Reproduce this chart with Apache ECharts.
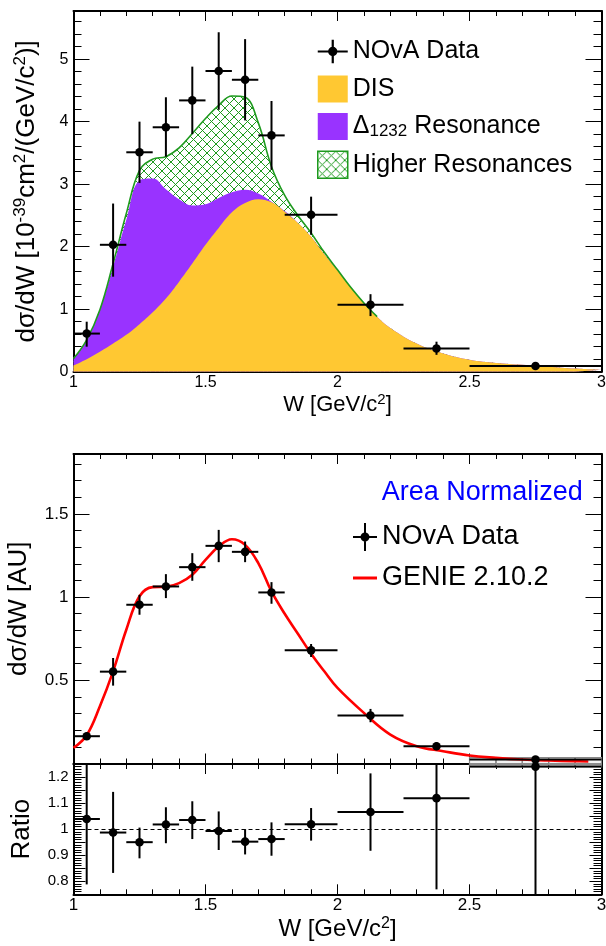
<!DOCTYPE html>
<html><head><meta charset="utf-8">
<script src="https://cdn.jsdelivr.net/npm/echarts@6/dist/echarts.min.js"></script>
<style>html,body{margin:0;padding:0;background:#fff}#c{width:606px;height:946px}</style>
</head><body><div id="c"></div>
<script>
// ---------------- DATA ----------------
// Model grid (W in GeV/c^2)
const W = [1.00,1.05,1.10,1.15,1.20,1.25,1.30,1.35,1.40,1.45,1.50,1.55,1.60,1.65,1.70,1.75,1.80,1.85,1.90,1.95,2.00,2.05,2.10,2.15,2.20,2.30,2.40,2.50,2.60,2.70,2.80,2.90,3.00];
// Model components, 10^-39 cm^2/(GeV/c^2) (drawn stacked)
const disXS    = [0.10,0.20,0.32,0.45,0.59,0.76,0.95,1.17,1.44,1.73,2.03,2.30,2.55,2.70,2.76,2.71,2.56,2.38,2.16,1.88,1.62,1.35,1.10,0.88,0.70,0.45,0.29,0.19,0.14,0.11,0.08,0.05,0.03];
const deltaXS  = [0.10,0.30,0.67,1.23,1.84,2.30,2.14,1.75,1.32,0.93,0.65,0.48,0.32,0.21,0.09,0.01,0.01,0.00,0.00,0.00,0.00,0.00,0.00,0.00,0.00,0.00,0.00,0.00,0.00,0.00,0.00,0.00,0.00];
const higherXS = [0.01,0.01,0.00,0.05,0.10,0.16,0.31,0.52,0.82,1.15,1.37,1.48,1.54,1.48,1.13,0.56,0.25,0.12,0.06,0.03,0.01,0.00,0.00,0.00,0.00,0.00,0.00,0.00,0.00,0.00,0.00,0.00,0.00];
const outlineMaxW = 2.15;   // green outline visible up to here

// Data bins
const binLo     = [1.0,1.1,1.2,1.3,1.4,1.5,1.6,1.7,1.8,2.0,2.25,2.5];
const binHi     = [1.1,1.2,1.3,1.4,1.5,1.6,1.7,1.8,2.0,2.25,2.5,3.0];
const binCenter = [1.05,1.15,1.25,1.35,1.45,1.55,1.65,1.75,1.9,2.125,2.375,2.75];
// Cross section data
const dataXS   = [0.61,2.03,3.51,3.91,4.34,4.81,4.67,3.78,2.51,1.07,0.37,0.09];
const dataXSLo = [0.40,1.52,3.02,3.44,3.80,4.19,4.02,3.23,2.19,0.89,0.27,0.06];
const dataXSHi = [0.80,2.69,4.00,4.39,4.88,5.43,5.32,4.33,2.80,1.24,0.48,0.12];
// Area normalized data
const dataAU   = [0.164,0.552,0.954,1.064,1.180,1.308,1.272,1.028,0.680,0.288,0.104,0.024];
const dataAULo = [0.142,0.468,0.894,0.994,1.098,1.210,1.210,0.960,0.640,0.248,0.080,0.010];
const dataAUHi = [0.186,0.634,1.014,1.138,1.264,1.404,1.334,1.090,0.718,0.328,0.128,0.038];
// GENIE 2.10.2 curve
const genieW  = [1.00,1.05,1.10,1.15,1.20,1.25,1.30,1.35,1.40,1.45,1.50,1.55,1.60,1.65,1.70,1.75,1.80,1.85,1.90,1.95,2.00,2.10,2.20,2.30,2.40,2.50,2.60,2.70,2.80,2.90,2.95];
const genieAU = [0.094,0.170,0.344,0.554,0.804,1.005,1.060,1.062,1.084,1.134,1.224,1.304,1.348,1.314,1.204,1.034,0.900,0.780,0.660,0.554,0.454,0.304,0.174,0.104,0.074,0.048,0.034,0.024,0.018,0.014,0.012];
// Ratio data / GENIE
const ratio   = [1.039,0.987,0.950,1.018,1.035,0.993,0.952,0.962,1.019,1.066,1.119,1.240];
const ratioLo = [0.788,0.832,0.888,0.946,0.962,0.920,0.903,0.898,0.956,0.917,0.769,0.500];
const ratioHi = [1.290,1.143,1.006,1.084,1.107,1.068,1.000,1.026,1.081,1.214,1.300,1.900];
const ratioRef = 1;
// MC band boxes in the last bin
const bandLo  = [2.5,2.6,2.7,2.8,2.9];
const bandHi  = [2.6,2.7,2.8,2.9,3.0];
const bandYLo = -0.02, bandYHi = 0.036;

// Tick settings
const wMin = 1, wMax = 3, wStep = 0.5;

// Cumulative stacks (drawn as overlapping areas from zero, top-most first)
const stackDelta = W.map((w, i) => disXS[i] + deltaXS[i]);
const stackTotal = W.map((w, i) => disXS[i] + deltaXS[i] + higherXS[i]);

// ---------------- STYLE ----------------
const FONT = "'Liberation Sans', Arial, Helvetica, sans-serif";
const DIS_COLOR = '#FFC832';
const DELTA_COLOR = '#9933FF';
const GREEN = '#1E9A1E';

function makeHatch(color) {
  const s = 9;
  const cv = document.createElement('canvas');
  cv.width = s; cv.height = s;
  const ctx = cv.getContext('2d');
  ctx.strokeStyle = color; ctx.lineWidth = 1;
  ctx.beginPath();
  ctx.moveTo(0, 0); ctx.lineTo(s, s);
  ctx.moveTo(0, s); ctx.lineTo(s, 0);
  ctx.stroke();
  return cv;
}
const hatch = makeHatch(GREEN);

function xAxisDef(gridIndex, position, labelSize, name, nameStyle, nameGap) {
  return {
    type: 'value', gridIndex, position, min: wMin, max: wMax, interval: wStep,
    axisLine: {show: true, onZero: false, lineStyle: {color: '#000', width: 2}},
    axisTick: {show: true, inside: true, length: 10, lineStyle: {color: '#000', width: 1}},
    minorTick: {show: true, splitNumber: 5, length: 5, lineStyle: {color: '#000', width: 1}},
    splitLine: {show: false}, minorSplitLine: {show: false},
    axisLabel: {show: !!labelSize, fontSize: labelSize || 12, color: '#000', margin: 3, fontFamily: FONT},
    name: name || '', nameLocation: 'middle', nameGap: nameGap || 0, nameTextStyle: nameStyle || {}
  };
}
function yAxisDef(gridIndex, position, min, max, interval, minorSplit, labelSize, formatter, name, nameStyle, nameGap, tickLen) {
  return {
    type: 'value', gridIndex, position, min, max, interval,
    axisLine: {show: true, onZero: false, lineStyle: {color: '#000', width: 2}},
    axisTick: {show: true, inside: true, length: tickLen || 16, lineStyle: {color: '#000', width: 1}},
    minorTick: {show: true, splitNumber: minorSplit, length: 8, lineStyle: {color: '#000', width: 1}},
    splitLine: {show: false}, minorSplitLine: {show: false},
    axisLabel: {show: !!labelSize, fontSize: labelSize || 12, color: '#000', margin: 5, fontFamily: FONT,
                formatter: formatter, showMaxLabel: true, showMinLabel: true},
    name: name || '', nameLocation: 'middle', nameRotate: 90, nameGap: nameGap || 0, nameTextStyle: nameStyle || {}
  };
}

function errorBarItem(params, api) {
  const cs = params.coordSys;
  const clampY = v => Math.max(cs.y, Math.min(cs.y + cs.height, v));
  const c = api.coord([api.value(0), api.value(1)]);
  const l = api.coord([api.value(2), api.value(1)]);
  const r = api.coord([api.value(3), api.value(1)]);
  const lo = api.coord([api.value(0), api.value(4)]);
  const hi = api.coord([api.value(0), api.value(5)]);
  return {type: 'group', children: [
    {type: 'line', shape: {x1: l[0], y1: c[1], x2: r[0], y2: c[1]}, style: {stroke: '#000', lineWidth: 2}},
    {type: 'line', shape: {x1: c[0], y1: clampY(hi[1]), x2: c[0], y2: clampY(lo[1])}, style: {stroke: '#000', lineWidth: 2}},
    {type: 'circle', shape: {cx: c[0], cy: c[1], r: 4.3}, style: {fill: '#000'}}
  ]};
}
function bandItem(params, api) {
  const a = api.coord([api.value(0), api.value(3)]);
  const b = api.coord([api.value(1), api.value(2)]);
  return {type: 'rect', shape: {x: a[0], y: a[1], width: b[0] - a[0], height: b[1] - a[1]},
          style: {fill: 'rgba(235,235,235,0.6)', stroke: '#888', lineWidth: 1.2}};
}
const rows = (ys, lo, hi) => binCenter.map((x, i) => [x, ys[i], binLo[i], binHi[i], lo[i], hi[i]]);

const supTitle = {
  a: {fontSize: 26, lineHeight: 30, fontFamily: FONT, color: '#000'},
  s: {fontSize: 17, lineHeight: 12, verticalAlign: 'top', fontFamily: FONT, color: '#000'}
};

const option = {
  backgroundColor: '#fff',
  animation: false,
  textStyle: {fontFamily: FONT},
  title: {text: 'Area Normalized', left: 381.7, top: 477, padding: 0,
          textStyle: {color: '#0000FF', fontSize: 27, fontWeight: 'normal', lineHeight: 32, fontFamily: FONT}},
  grid: [
    {left: 73.5, top: 11, width: 528, height: 360.7, outerBoundsMode: 'none', containLabel: false},
    {left: 73.5, top: 454, width: 528, height: 309.5, outerBoundsMode: 'none', containLabel: false},
    {left: 73.5, top: 764, width: 528, height: 130.3, outerBoundsMode: 'none', containLabel: false}
  ],
  xAxis: [
    xAxisDef(0, 'bottom', 16, '{a|W [GeV/c}{s|2}{a|]}', {rich: {
      a: {fontSize: 22, lineHeight: 26, fontFamily: FONT, color: '#000'},
      s: {fontSize: 15, lineHeight: 10, verticalAlign: 'top', fontFamily: FONT, color: '#000'}}}, 20.5),
    xAxisDef(0, 'top', 0),
    xAxisDef(1, 'bottom', 0),
    xAxisDef(1, 'top', 0),
    xAxisDef(2, 'bottom', 17, '{a|W [GeV/c}{s|2}{a|]}', {rich: {
      a: {fontSize: 24, lineHeight: 28, fontFamily: FONT, color: '#000'},
      s: {fontSize: 16, lineHeight: 11, verticalAlign: 'top', fontFamily: FONT, color: '#000'}}}, 20),
    xAxisDef(2, 'top', 0)
  ],
  yAxis: [
    yAxisDef(0, 'left', 0, 5.77, 1, 5, 16,
      v => (Math.abs(v - Math.round(v)) < 1e-6 ? String(Math.round(v)) : ''),
      '{a|dσ/dW [10}{s|-39}{a|cm}{s|2}{a|/(GeV/c}{s|2}{a|)]}', {rich: supTitle}, 31.5),
    yAxisDef(0, 'right', 0, 5.77, 1, 5, 0),
    yAxisDef(1, 'left', 0, 1.86, 0.5, 5, 17,
      v => ((v > 0.01 && Math.abs(v * 2 - Math.round(v * 2)) < 1e-6) ? String(+v.toFixed(1)) : ''),
      'dσ/dW [AU]', {fontSize: 26, color: '#000', fontFamily: FONT, lineHeight: 30}, 28),
    yAxisDef(1, 'right', 0, 1.86, 0.5, 5, 0),
    yAxisDef(2, 'left', 0.75, 1.25, 0.05, 5, 15,
      v => ((Math.abs(v * 10 - Math.round(v * 10)) < 1e-6 && v > 0.76 && v < 1.24) ? String(+v.toFixed(1)) : ''),
      'Ratio', {fontSize: 26, color: '#000', fontFamily: FONT, lineHeight: 30}, 30.5, 12),
    yAxisDef(2, 'right', 0.75, 1.25, 0.05, 5, 0, null, '', {}, 0, 12)
  ],
  legend: [
    {
      left: 317, top: 38, orient: 'vertical', padding: 0, itemWidth: 30, itemHeight: 27, itemGap: 10.5,
      selectedMode: false, symbolKeepAspect: true,
      textStyle: {fontSize: 25, color: '#000', lineHeight: 27, fontFamily: FONT,
        rich: {a: {fontSize: 25, lineHeight: 27, fontFamily: FONT, color: '#000'},
               b: {fontSize: 17, lineHeight: 12, verticalAlign: 'bottom', fontFamily: FONT, color: '#000'}}},
      formatter: n => n === 'Δ1232 Resonance' ? '{a|Δ}{b|1232}{a| Resonance}' : n,
      data: [
        {name: 'NOvA Data', icon: 'path://M0 9.5H27V11.5H0Z M12.5 0H14.5V21H12.5Z M13.5 6.3A4.2 4.2 0 1 1 13.49 6.3Z',
         itemStyle: {color: '#000', borderWidth: 0}},
        {name: 'DIS', icon: 'rect', itemStyle: {color: DIS_COLOR, borderWidth: 0}},
        {name: 'Δ1232 Resonance', icon: 'rect', itemStyle: {color: DELTA_COLOR, borderWidth: 0}},
        {name: 'Higher Resonances', icon: 'rect',
         itemStyle: {color: {image: hatch, repeat: 'repeat'}, borderColor: GREEN, borderWidth: 1.5}}
      ]
    },
    {
      left: 353, top: 523, orient: 'vertical', padding: 0, itemWidth: 24, itemHeight: 28, itemGap: 13,
      selectedMode: false, symbolKeepAspect: true,
      textStyle: {fontSize: 27, color: '#000', lineHeight: 28, fontFamily: FONT},
      data: [
        {name: 'NOvA Data', icon: 'path://M0 13H24V15H0Z M11 0H13V28H11Z M12 9.5A4.5 4.5 0 1 1 11.99 9.5Z',
         itemStyle: {color: '#000', borderWidth: 0}},
        {name: 'GENIE 2.10.2', icon: 'path://M0 0H24V3H0Z', itemStyle: {color: '#FF0000', borderWidth: 0}}
      ]
    }
  ],
  series: [
    {type: 'line', name: 'Higher Resonances', xAxisIndex: 0, yAxisIndex: 0, smooth: 0.4,
     symbol: 'none', showSymbol: false, data: W.map((w, i) => [w, stackTotal[i]]),
     lineStyle: {width: 0, color: GREEN}, itemStyle: {color: GREEN},
     areaStyle: {color: {image: hatch, repeat: 'repeat'}, opacity: 1}, z: 1},
    {type: 'line', name: 'Δ1232 Resonance', xAxisIndex: 0, yAxisIndex: 0, smooth: 0.4,
     symbol: 'none', showSymbol: false, data: W.map((w, i) => [w, stackDelta[i]]),
     lineStyle: {width: 0, color: DELTA_COLOR}, itemStyle: {color: DELTA_COLOR},
     areaStyle: {color: DELTA_COLOR, opacity: 1}, z: 2},
    {type: 'line', name: 'DIS', xAxisIndex: 0, yAxisIndex: 0, smooth: 0.4,
     symbol: 'none', showSymbol: false, data: W.map((w, i) => [w, disXS[i]]),
     lineStyle: {width: 0, color: DIS_COLOR}, itemStyle: {color: DIS_COLOR},
     areaStyle: {color: DIS_COLOR, opacity: 1}, z: 3},
    {type: 'line', name: 'Higher outline', xAxisIndex: 0, yAxisIndex: 0, smooth: 0.4,
     symbol: 'none', showSymbol: false,
     data: W.map((w, i) => [w, stackTotal[i]]).filter(p => p[0] <= outlineMaxW),
     lineStyle: {width: 1.6, color: GREEN}, itemStyle: {color: GREEN}, z: 4},
    {type: 'custom', name: 'NOvA Data', xAxisIndex: 0, yAxisIndex: 0, renderItem: errorBarItem,
     data: rows(dataXS, dataXSLo, dataXSHi), encode: {x: [0, 2, 3], y: [1, 4, 5]},
     itemStyle: {color: '#000'}, z: 10},

    {type: 'line', name: 'GENIE 2.10.2', xAxisIndex: 2, yAxisIndex: 2, smooth: 0.4,
     symbol: 'none', showSymbol: false, data: genieW.map((w, i) => [w, genieAU[i]]),
     lineStyle: {width: 2.6, color: '#FF0000'}, itemStyle: {color: '#FF0000'}, z: 5},
    {type: 'custom', name: 'MC band', xAxisIndex: 2, yAxisIndex: 2, renderItem: bandItem, clip: false,
     data: bandLo.map((lo, i) => [lo, bandHi[i], bandYLo, bandYHi]), encode: {x: [0, 1], y: [2, 3]}, z: 4},
    {type: 'custom', name: 'NOvA Data', xAxisIndex: 2, yAxisIndex: 2, renderItem: errorBarItem,
     data: rows(dataAU, dataAULo, dataAUHi), encode: {x: [0, 2, 3], y: [1, 4, 5]},
     itemStyle: {color: '#000'}, z: 10},

    {type: 'custom', name: 'Ratio', xAxisIndex: 4, yAxisIndex: 4, renderItem: errorBarItem,
     data: rows(ratio, ratioLo, ratioHi), encode: {x: [0, 2, 3], y: [1, 4, 5]},
     itemStyle: {color: '#000'}, z: 10,
     markLine: {silent: true, symbol: 'none', label: {show: false},
       lineStyle: {type: [4, 3], color: '#000', width: 1}, data: [{yAxis: ratioRef}]}}
  ]
};

const chart = echarts.init(document.getElementById('c'), null, {renderer: 'canvas'});
chart.setOption(option);
</script>
</body></html>
